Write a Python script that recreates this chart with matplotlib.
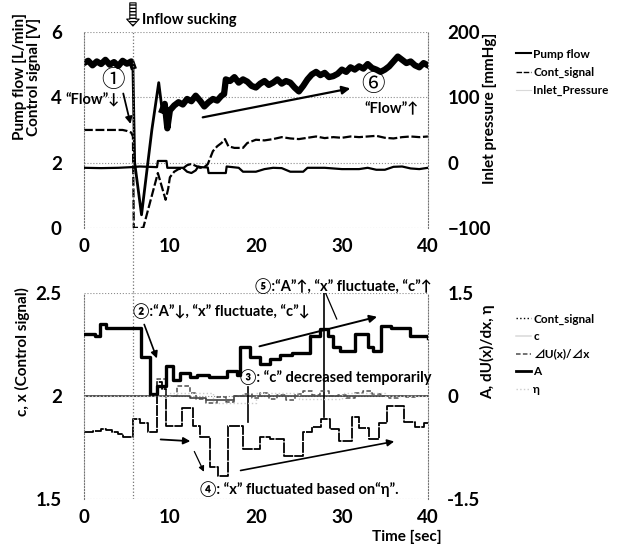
import numpy as np
import matplotlib.pyplot as plt

plt.rcParams['font.family'] = ['Lato', 'Noto Sans CJK JP', 'DejaVu Sans']
plt.rcParams['font.weight'] = 'bold'

# ---- top panel data ----
pump_t = [0.0, 0.5, 1.0, 1.5, 2.0, 2.5, 3.0, 3.5, 4.0, 4.5, 5.0, 5.5, 5.7, 5.9, 6.7, 7.9,
          8.7, 9.1, 9.4, 9.7, 10.0, 10.5, 11.0, 11.5, 12.0, 12.5, 13.0, 13.5, 14.0, 14.5,
          15.0, 15.5, 16.0, 16.3, 16.5, 17.0, 17.5, 18.0, 18.5, 19.0, 19.5, 20.0, 20.5,
          21.0, 21.5, 22.0, 22.5, 23.0, 23.5, 24.0, 24.5, 25.0, 25.5, 26.0, 26.5, 27.0,
          27.5, 28.0, 28.5, 29.0, 29.5, 30.0, 30.5, 31.0, 31.5, 32.0, 32.5, 33.0, 33.5,
          34.0, 34.5, 35.0, 35.5, 36.0, 36.5, 37.0, 37.5, 38.0, 38.5, 39.0, 39.5, 40.0]
pump_flow = [5.05, 5.12, 4.98, 5.10, 5.02, 5.15, 5.00, 5.08, 4.96, 5.12, 5.03, 5.10, 4.95, 2.0, 0.4, 3.0,
             4.45, 3.6, 3.8, 3.05, 3.6, 3.75, 3.85, 3.78, 3.95, 3.88, 4.05, 3.9, 3.72, 3.85,
             3.95, 3.9, 4.05, 4.1, 4.55, 4.5, 4.62, 4.45, 4.55, 4.48, 4.35, 4.3, 4.42,
             4.5, 4.38, 4.45, 4.55, 4.42, 4.5, 4.45, 4.3, 4.18, 4.35, 4.55, 4.7, 4.78,
             4.68, 4.75, 4.62, 4.65, 4.72, 4.85, 4.78, 4.92, 4.85, 4.95, 4.88, 5.02, 4.9,
             4.85, 4.78, 4.85, 4.95, 5.1, 5.25, 5.15, 5.05, 5.1, 4.98, 4.92, 5.05, 4.98]

cont_t = [0, 4.5, 5.0, 5.5, 5.7, 5.8, 6.9, 8.6, 9.5, 9.8, 10.0, 10.5, 11.0, 11.5, 12.0, 12.5,
          13.0, 13.5, 14.0, 14.4, 15.0, 15.5, 16.0, 16.4, 16.8, 17.5, 18.5, 19.0, 20, 21, 22,
          23, 24, 25, 26, 27, 28, 29, 30, 31, 32, 33, 34, 35, 36, 37, 38, 39, 40]
cont_signal = [3.0, 3.0, 2.97, 2.92, 2.8, 0.0, 0.0, 1.68, 0.86, 1.2, 1.55, 1.72, 1.8, 1.82, 1.92, 1.96,
               1.9, 1.84, 1.86, 1.95, 2.35, 2.5, 2.6, 2.72, 2.5, 2.45, 2.45, 2.6, 2.7, 2.68, 2.72,
               2.78, 2.74, 2.72, 2.76, 2.8, 2.75, 2.78, 2.76, 2.8, 2.78, 2.8, 2.82, 2.76, 2.74, 2.78,
               2.8, 2.78, 2.8]

inlet_t = [0, 2, 4, 5.5, 6.5, 8.5, 8.6, 9.6, 9.7, 11.5, 12.0, 12.5, 13.0, 13.3, 13.6, 14.4,
           14.5, 16.5, 16.6, 18, 18.5, 20, 21, 22, 23, 24, 25.5, 26, 28, 29, 30, 32, 33, 34,
           35, 36, 37, 38, 39, 40]
inlet_pressure = [-8, -8.5, -8, -7, -6, -7, 2.5, 2.5, -8, -8, -14, -16, -12, -6, -7, -7.5,
                  -16, -16, -6, -8, -14, -14, -10, -8, -8.5, -14, -14, -8, -8, -9, -10, -10, -8, -11,
                  -11, -6.5, -6, -9, -10, -8]

# ---- bottom panel data ----
a_t = [0, 1.3, 1.9, 2.6, 6.6, 7.7, 8.5, 9.5, 10.4, 11.2, 12.3, 13.1, 14.5, 16.6, 17.8, 18.1,
       19.3, 20.5, 21.6, 22.8, 24.2, 26.3, 27.5, 28.4, 29.0, 29.8, 31.5, 33.0, 33.6, 34.6,
       35.7, 37.9, 40]
a_val = [0.90, 0.87, 1.05, 0.99, 0.57, 0.03, 0.15, 0.435, 0.24, 0.33, 0.27, 0.30, 0.27, 0.36, 0.30, 0.72,
         0.57, 0.465, 0.54, 0.60, 0.63, 0.87, 0.975, 0.87, 0.72, 0.66, 0.90, 0.72, 0.66, 1.02,
         0.99, 0.87, 0.84]

x_t = [0, 1.0, 2.0, 2.6, 3.3, 4.0, 4.5, 5.7, 6.5, 7.4, 8.5, 9.1, 9.6, 11.4, 12.7, 13.5, 14.7,
       15.6, 16.8, 18.5, 20.5, 21.6, 23.3, 25.5, 26.5, 27.6, 28.6, 29.7, 31.2, 32.0, 33.2,
       34.3, 35.2, 37.2, 38.5, 39.5, 40]
x_signal = [1.825, 1.83, 1.84, 1.835, 1.825, 1.815, 1.80, 1.89, 1.87, 1.825, 2.07, 2.035, 1.855, 1.94,
            1.855, 1.80, 1.655, 1.61, 1.855, 1.745, 1.80, 1.79, 1.71, 1.825, 1.85, 1.89, 1.84, 1.78,
            1.90, 1.845, 1.79, 1.87, 1.95, 1.875, 1.85, 1.87, 1.87]

c_t = [0, 12.3, 14.2, 17.5, 40]
c_val = [2.0, 1.99, 1.98, 2.0, 2.0]

du_t = [0, 8.5, 9.6, 10.8, 12.3, 13.0, 14.2, 15.5, 16.5, 17.5, 18.5, 19.5, 20.5, 21.5, 22.5,
        23.5, 24.5, 25.5, 26.5, 27.5, 28.5, 29.5, 30.5, 31.5, 32.5, 33.5, 34.5, 35.5, 36.5,
        37.5, 38.5, 40]
du_dx = [0, 0.25, 0.0, 0.15, 0.05, -0.05, -0.1, -0.02, -0.08, 0.0, 0.03, -0.03, 0.05, -0.04, 0.02,
         -0.06, 0.03, 0.08, 0.02, 0.08, 0.0, 0.02, -0.03, 0.05, 0.08, 0.03, 0.0, -0.03, 0.0,
         -0.02, 0.0, 0.0]

eta_t = [0, 10, 15, 20, 25, 30, 35, 40]
eta = [0, 0.05, -0.1, 0.05, -0.05, 0.05, 0.0, 0.0]

fig = plt.figure(figsize=(6.17, 5.53), dpi=100)
ax1 = fig.add_axes([0.136, 0.588, 0.5575, 0.354])
ax1r = ax1.twinx()
ax2 = fig.add_axes([0.136, 0.0976, 0.5575, 0.3725])
ax2r = ax2.twinx()


def style(ax, twin):
    for s in ['top', 'bottom']:
        ax.spines[s].set_visible(False)
    for s in ['left', 'right']:
        if twin:
            ax.spines[s].set_visible(False)
        else:
            ax.spines[s].set_linestyle(':')
            ax.spines[s].set_color('0.45')
    ax.tick_params(length=0, labelsize=13.5)
    ax.tick_params(axis='y', pad=16 if not twin else 14)
    ax.tick_params(axis='x', pad=7)


for a, tw in [(ax1, False), (ax1r, True), (ax2, False), (ax2r, True)]:
    style(a, tw)

# top panel
pt = np.array(pump_t)
pf = np.array(pump_flow)
noisy = (pt <= 5.7) | (pt >= 9.1)
l_pump, = ax1.plot(pt, pf, color='black', lw=2, label='Pump flow')
ax1.plot(pt, np.where(noisy, pf, np.nan), color='black', lw=4.5)
l_cont, = ax1.plot(cont_t, cont_signal, color='black', lw=1.6, ls=(0, (4, 1.2)), label='Cont_signal')
l_inlet, = ax1r.plot(inlet_t, inlet_pressure, color='black', lw=1.6, label='Inlet_Pressure')

ax1.set_xlim(0, 40)
ax1.set_ylim(0, 6)
ax1.set_yticks([0, 2, 4, 6])
ax1.set_xticks([0, 10, 20, 30, 40])
ax1r.set_ylim(-100, 200)
ax1r.set_yticks([-100, 0, 100, 200])
ax1.grid(axis='y', ls=':', color='0.55', lw=0.8)
ax1.axvline(5.7, ymin=-0.33, ymax=1.0, ls=':', color='0.45', lw=0.9, clip_on=False)

# bottom panel
l_x, = ax2.plot(x_t, x_signal, color='black', lw=1.3, ls=(0, (6, 0.6)), drawstyle='steps-post', label='Cont_signal')
l_c, = ax2.plot(c_t, c_val, color='0.2', lw=1.1, drawstyle='steps-post', label='c')
l_du, = ax2r.plot(du_t, du_dx, color='0.3', lw=1.1, ls=(0, (3, 1.5)), drawstyle='steps-post', label='⊿U(x)/⊿x')
l_a, = ax2r.plot(a_t, a_val, color='black', lw=2.4, drawstyle='steps-post', label='A')
l_eta, = ax2r.plot(eta_t, eta, color='0.8', lw=1.0, ls=':', drawstyle='steps-post', label='η')

ax2.set_xlim(0, 40)
ax2.set_ylim(1.5, 2.5)
ax2.set_yticks([1.5, 2, 2.5])
ax2.set_yticklabels(['1.5', '2', '2.5'])
ax2.set_xticks([0, 10, 20, 30, 40])
ax2r.set_ylim(-1.5, 1.5)
ax2r.set_yticks([-1.5, 0, 1.5])
ax2r.set_yticklabels(['-1.5', '0', '1.5'])
ax2.grid(axis='y', ls=':', color='0.55', lw=0.8)
ax2.axvline(5.7, ls=':', color='0.45', lw=0.9)

# axis labels
fig.text(27 / 617, 1 - 77 / 553, 'Pump flow [L/min]\nControl signal [V]', rotation=90,
         ha='center', va='center', fontsize=11, linespacing=1.0)
fig.text(490 / 617, 1 - 108 / 553, 'Inlet pressure [mmHg]', rotation=90,
         ha='center', va='center', fontsize=11)
fig.text(22 / 617, 1 - 352 / 553, 'c, x (Control signal)', rotation=90,
         ha='center', va='center', fontsize=11)
fig.text(488 / 617, 1 - 352 / 553, 'A, dU(x)/dx, η', rotation=90,
         ha='center', va='center', fontsize=11)
fig.text(407 / 617, 1 - 537 / 553, 'Time [sec]', ha='center', va='center', fontsize=11)

# legends
leg1 = fig.legend([l_pump, l_cont, l_inlet], ['Pump flow', 'Cont_signal', 'Inlet_Pressure'],
                  loc='upper left', bbox_to_anchor=(505 / 617, 1 - 38 / 553), frameon=False,
                  fontsize=8.5, handlelength=1.3, handletextpad=0.2, labelspacing=0.6)
hs = leg1.legend_handles
hs[0].set_linewidth(1.5)
hs[1].set_linewidth(1.0)
hs[2].set_color('0.85')
hs[2].set_linewidth(0.8)

leg2 = fig.legend([l_x, l_c, l_du, l_a, l_eta], ['Cont_signal', 'c', '⊿U(x)/⊿x', 'A', 'η'],
                  loc='upper left', bbox_to_anchor=(505 / 617, 1 - 303 / 553), frameon=False,
                  fontsize=8.5, handlelength=1.3, handletextpad=0.2, labelspacing=0.55)
hb = leg2.legend_handles
hb[0].set_linestyle(':')
hb[0].set_linewidth(1.0)
hb[1].set_color('0.85')
hb[3].set_linewidth(2.0)

circ = ['Noto Sans CJK JP', 'DejaVu Sans']

# annotations, top panel
ax1.annotate('', xy=(5.7, 6.1), xytext=(5.7, 6.98), annotation_clip=False,
             arrowprops=dict(arrowstyle='simple,head_length=0.5,head_width=0.9,tail_width=0.45',
                             fc='white', ec='black', lw=0.8, hatch='-----'))
ax1.text(6.7, 6.38, 'Inflow sucking', fontsize=10.5, ha='left', va='center', clip_on=False)
ax1.text(3.4, 4.53, '①', fontsize=17, family=circ, fontweight='normal', ha='center', va='center')
ax1.annotate('', xy=(5.5, 3.1), xytext=(4.5, 4.2),
             arrowprops=dict(arrowstyle='-|>', color='black', lw=1.3, mutation_scale=10))
ax1.text(-2.1, 3.9, '“Flow”↓', fontsize=10.5, ha='left', va='center', clip_on=False)
ax1.annotate('', xy=(31.3, 4.29), xytext=(13.5, 3.37),
             arrowprops=dict(arrowstyle='-|>', color='black', lw=1.6, mutation_scale=12))
ax1.text(33.6, 4.38, '⑥', fontsize=17, family=circ, fontweight='normal', ha='center', va='center')
ax1.text(35.8, 3.64, '“Flow”↑', fontsize=10.5, ha='center', va='center')

# annotations, bottom panel
ax2.text(19.9, 2.534, '⑤:“A”↑, “x” fluctuate, “c”↑', fontsize=10.5, ha='left', va='center', clip_on=False)
ax2.plot([27.9, 27.9], [2.51, 1.898], color='black', lw=1.2)
ax2.plot([28.0, 29.4], [2.51, 2.374], color='black', lw=0.9)
ax2.annotate('', xy=(34.4, 2.388), xytext=(20.1, 2.238),
             arrowprops=dict(arrowstyle='-|>', color='black', lw=1.4, mutation_scale=11))
ax2.text(5.7, 2.41, '②:“A”↓, “x” fluctuate, “c”↓', fontsize=10.5, ha='left', va='center')
ax2.annotate('', xy=(8.6, 2.17), xytext=(6.9, 2.36),
             arrowprops=dict(arrowstyle='-|>', color='black', lw=1.2, mutation_scale=10))
ax2.text(18.1, 2.092, '③: “c” decreased temporarily', fontsize=10.5, ha='left', va='center', clip_on=False)
ax2.plot([19.1, 19.1], [2.044, 1.874], color='black', lw=1.2)
ax2.text(13.5, 1.549, '④: “x” fluctuated based on“η”.', fontsize=10.5, ha='left', va='center', clip_on=False)
ax2.annotate('', xy=(36.4, 1.782), xytext=(17.9, 1.636),
             arrowprops=dict(arrowstyle='-|>', color='black', lw=1.2, mutation_scale=10))
ax2.annotate('', xy=(12.7, 1.78), xytext=(8.6, 1.79),
             arrowprops=dict(arrowstyle='-|>', color='black', lw=1.3, mutation_scale=10))
ax2.annotate('', xy=(14.1, 1.62), xytext=(12.7, 1.743),
             arrowprops=dict(arrowstyle='-|>', color='black', lw=0.9, mutation_scale=8))

fig.savefig('out.png', dpi=100)
